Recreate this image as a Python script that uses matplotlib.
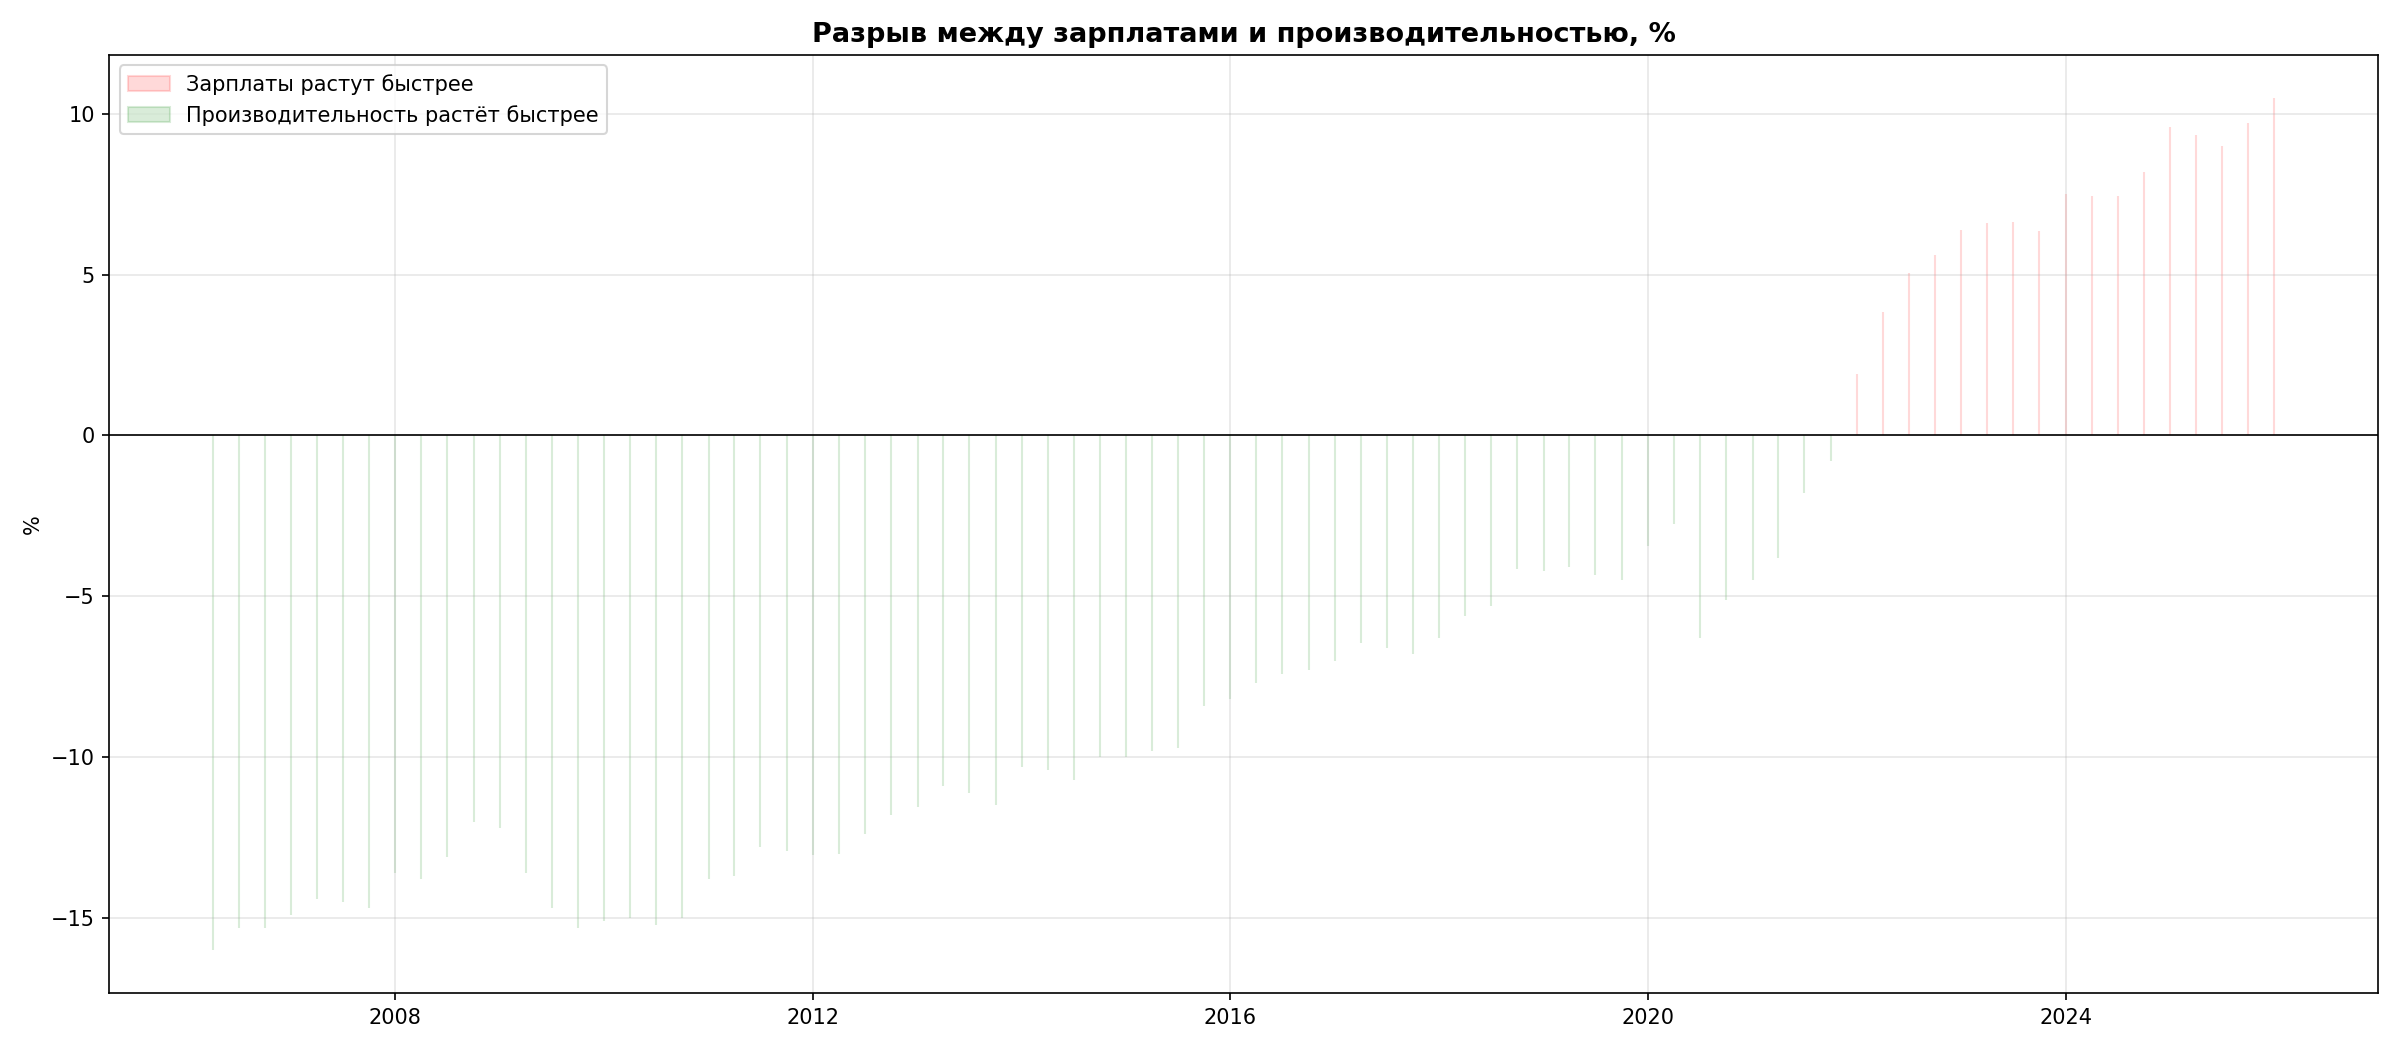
import numpy as np
import pandas as pd
import matplotlib
matplotlib.use("Agg")
import matplotlib.pyplot as plt

# quarterly gap between wage growth and productivity growth, %
start_quarter = "2006-04-01"
gap_values = [
    -16.0, -15.3, -15.3, -14.9, -14.4, -14.5, -14.7, -13.6,
    -13.8, -13.1, -12.0, -12.2, -13.6, -14.7, -15.3, -15.1,
    -15.0, -15.2, -15.0, -13.8, -13.7, -12.8, -12.9, -13.05,
    -13.0, -12.4, -11.8, -11.55, -10.9, -11.1, -11.5, -10.3,
    -10.4, -10.7, -10.0, -10.0, -9.8, -9.7, -8.4, -8.2,
    -7.7, -7.4, -7.3, -7.0, -6.45, -6.6, -6.8, -6.3,
    -5.6, -5.3, -4.15, -4.2, -4.1, -4.35, -4.5, -3.45,
    -2.75, -6.3, -5.1, -4.5, -3.8, -1.8, -0.8, 1.9,
    3.85, 5.05, 5.6, 6.4, 6.6, 6.65, 6.35, 7.5,
    7.45, 7.45, 8.2, 9.6, 9.35, 9.0, 9.7, 10.5,
]

TITLE = "Разрыв между зарплатами и производительностью, %"
LABEL_WAGES = "Зарплаты растут быстрее"
LABEL_PROD = "Производительность растёт быстрее"


def build_series():
    """
    Quarterly points placed on a daily index, so the filled areas
    are drawn as thin spikes (one per quarter).
    """
    dates = pd.date_range(start_quarter, periods=len(gap_values), freq="QS")
    gap = pd.Series(gap_values, index=dates)
    daily = gap.reindex(pd.date_range(dates[0], dates[-1], freq="D"))
    return daily


def plot_gap():
    daily = build_series()
    x = daily.index
    y = daily.values

    fig, ax = plt.subplots(figsize=(16, 7), dpi=150)
    ax.fill_between(x, 0, y, where=(y > 0), color="red", alpha=0.15,
                    label=LABEL_WAGES)
    ax.fill_between(x, 0, y, where=(y < 0), color="green", alpha=0.15,
                    label=LABEL_PROD)
    ax.axhline(0, color="black", linewidth=0.8)

    ax.set_title(TITLE, fontsize=13, fontweight="bold")
    ax.set_ylabel("%")
    ax.grid(True, alpha=0.3)
    ax.legend(loc="upper left")

    fig.tight_layout()
    fig.savefig("out.png")


if __name__ == "__main__":
    plot_gap()
